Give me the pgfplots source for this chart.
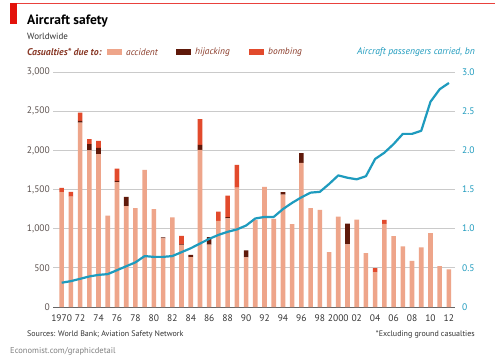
\documentclass[border=0pt]{standalone}
\usepackage{pgfplots}
\pgfplotsset{compat=1.18}
\usepackage{pgfplotstable}
\usepackage{fontspec}
\setmainfont{PT Sans}
\definecolor{acc}{HTML}{EEA58A}
\definecolor{hij}{HTML}{5F190A}
\definecolor{bomb}{HTML}{E24A2C}
\definecolor{pax}{HTML}{1E9BBE}
\definecolor{econred}{HTML}{E3120B}
\definecolor{legtxt}{HTML}{8A3A28}
\definecolor{lefttick}{HTML}{5E5350}
\definecolor{gridc}{HTML}{CACACA}

\pgfplotstableread{
year acc hij bomb
1970 1465 0 55
1971 1410 0 60
1972 2355 20 105
1973 2000 80 62
1974 1952 80 88
1975 1168 0 0
1976 1595 15 157
1977 1288 118 0
1978 1262 0 0
1979 1750 0 0
1980 1249 0 0
1981 876 12 0
1982 1143 0 0
1983 790 10 108
1984 637 30 0
1985 2005 64 331
1986 796 95 0
1987 1100 0 119
1988 1130 17 276
1989 1525 0 289
1990 633 89 0
1991 1113 0 0
1992 1534 0 0
1993 1126 0 0
1994 1436 30 0
1995 1058 0 0
1996 1839 127 0
1997 1262 0 0
1998 1240 0 0
1999 701 0 0
2000 1155 0 0
2001 799 267 0
2002 1117 0 0
2003 688 0 0
2004 446 0 51
2005 1062 0 51
2006 905 0 0
2007 773 0 0
2008 590 0 0
2009 760 0 0
2010 943 0 0
2011 522 0 0
2012 480 0 0
}\casualties

\pgfplotstableread{
year pax
1970 0.31
1971 0.33
1972 0.36
1973 0.39
1974 0.41
1975 0.42
1976 0.47
1977 0.52
1978 0.57
1979 0.65
1980 0.64
1981 0.64
1982 0.65
1983 0.70
1984 0.75
1985 0.81
1986 0.87
1987 0.92
1988 0.96
1989 0.99
1990 1.04
1991 1.13
1992 1.15
1993 1.15
1994 1.25
1995 1.33
1996 1.40
1997 1.46
1998 1.47
1999 1.57
2000 1.68
2001 1.65
2002 1.63
2003 1.67
2004 1.89
2005 1.97
2006 2.08
2007 2.21
2008 2.21
2009 2.25
2010 2.62
2011 2.78
2012 2.86
}\passengers

\begin{document}
\begin{tikzpicture}[x=1pt,y=1pt]
\path[use as bounding box] (0,0) rectangle (500,357);
\fill[white] (0,0) rectangle (500,357);
\fill[econred] (10,333) rectangle (17,354);
\draw[econred!80, line width=0.6pt] (17,353.5) -- (495,353.5);

\node[anchor=west, inner sep=0pt, font=\fontsize{13.5}{15}\selectfont\bfseries] at (27,336) {Aircraft safety};
\node[anchor=west, inner sep=0pt, font=\fontsize{9}{10}\selectfont, text=black!80] at (27,321) {Worldwide};

\node[anchor=west, inner sep=0pt, font=\fontsize{9.8}{11}\selectfont\bfseries\itshape, text=legtxt] at (27,305) {Casualties* due to:};
\fill[acc] (107,302) rectangle (122,308);
\node[anchor=west, inner sep=0pt, font=\fontsize{9.4}{11}\selectfont\itshape, text=legtxt] at (126,305) {accident};
\fill[hij] (176,302) rectangle (191,308);
\node[anchor=west, inner sep=0pt, font=\fontsize{9.4}{11}\selectfont\itshape, text=legtxt] at (195,305) {hijacking};
\fill[bomb] (249,302) rectangle (264,308);
\node[anchor=west, inner sep=0pt, font=\fontsize{9.4}{11}\selectfont\itshape, text=legtxt] at (268,305) {bombing};
\node[anchor=east, inner sep=0pt, font=\fontsize{9.6}{11}\selectfont\itshape, text=pax] at (475,305) {Aircraft passengers carried, bn};

\node[anchor=west, inner sep=0pt, font=\fontsize{8}{9}\selectfont, text=black!80] at (27,23) {Sources: World Bank; Aviation Safety Network};
\node[anchor=east, inner sep=0pt, font=\fontsize{8}{9}\selectfont, text=black!80] at (475,23) {*Excluding ground casualties};
\node[anchor=west, inner sep=0pt, font=\fontsize{8.5}{9}\selectfont, text=black!50] at (10,6) {Economist.com/graphicdetail};

\begin{axis}[
  at={(53pt,50pt)}, anchor=south west,
  scale only axis, width=402pt, height=235pt,
  xmin=1969.06, xmax=2012.66, ymin=0, ymax=3000,
  axis line style={draw=none},
  major tick length=0pt,
  ymajorgrids, grid style={draw=gridc, line width=0.9pt},
  ytick={0,500,1000,1500,2000,2500,3000},
  yticklabels={0,500,{1,000},{1,500},{2,000},{2,500},{3,000}},
  y tick label style={font=\fontsize{9.5}{10}\selectfont, text=lefttick, inner sep=0pt},
  yticklabel shift=3pt,
  xtick={1970,1972,...,2012},
  xticklabels={1970,72,74,76,78,80,82,84,86,88,90,92,94,96,98,2000,02,04,06,08,10,12},
  x tick label style={font=\fontsize{9.5}{10}\selectfont, text=black!80, inner sep=0pt},
  xticklabel shift=8pt,
  ybar stacked, bar width=4.6pt,
  clip=false,
]
\addplot[fill=acc, draw=none] table[x=year, y=acc] {\casualties};
\addplot[fill=hij, draw=none] table[x=year, y=hij] {\casualties};
\addplot[fill=bomb, draw=none] table[x=year, y=bomb] {\casualties};
\draw[black!60, line width=0.9pt] (axis cs:1969.06,0) -- (axis cs:2012.66,0);
\end{axis}

\begin{axis}[
  at={(53pt,50pt)}, anchor=south west,
  scale only axis, width=402pt, height=235pt,
  xmin=1969.06, xmax=2012.66, ymin=0, ymax=3,
  axis line style={draw=none},
  major tick length=0pt,
  axis y line*=right,
  axis x line=none,
  ytick={0,0.5,1,1.5,2,2.5,3},
  yticklabels={0,0.5,1.0,1.5,2.0,2.5,3.0},
  y tick label style={font=\fontsize{9.5}{10}\selectfont, text=pax, inner sep=0pt},
  yticklabel shift=7pt,
  clip=false,
]
\addplot[pax, line width=2.2pt, line join=round] table[x=year, y=pax] {\passengers};
\end{axis}
\end{tikzpicture}
\end{document}
